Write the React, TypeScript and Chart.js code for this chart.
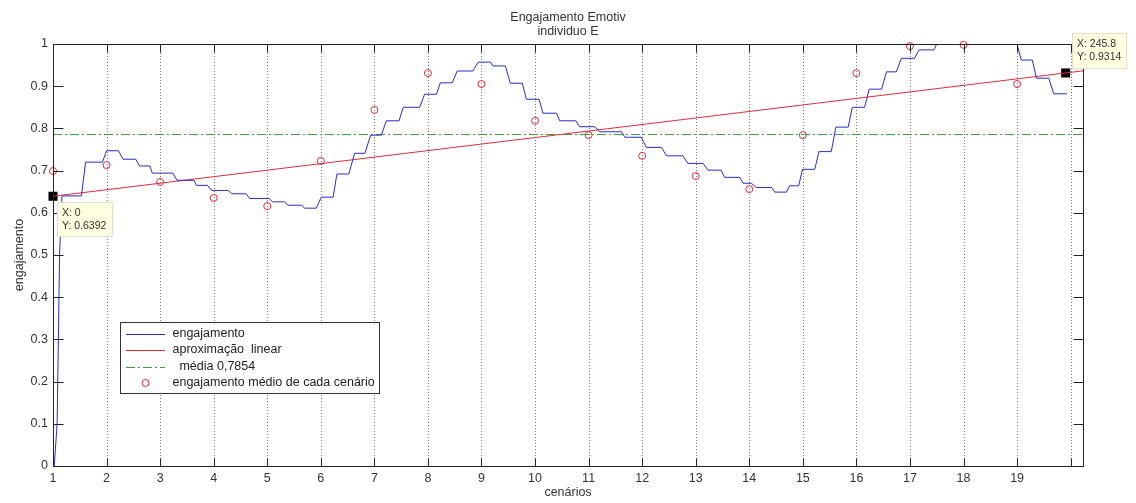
import { useEffect, useRef } from 'react';
import { Chart, registerables } from 'chart.js';

Chart.register(...registerables);

// ---------- data ----------
const xTickValues = [0, 13, 26, 39, 52, 65, 78, 91, 104, 117, 130, 143, 156, 169, 182, 195, 208, 221, 234, 247];
const xTickLabels = ['1', '2', '3', '4', '5', '6', '7', '8', '9', '10', '11', '12', '13', '14', '15', '16', '17', '18', '19', ''];

const engajamentoX = [
  0.3, 1.0, 1.3, 1.6, 2.0, 2.2, 6.9, 7.9, 12.0, 13.0, 15.9, 17.0, 20.1, 21.0, 23.5, 24.1, 29.1, 30.1, 34.2, 34.8,
  37.5, 38.5, 42.5, 43.4, 46.9, 47.7, 52.4, 53.3, 56.2, 57.0, 60.3, 61.1, 63.9, 65.1, 68.0, 68.9, 71.8, 73.2, 75.7, 77.1,
  79.7, 80.9, 84.0, 85.0, 89.0, 90.2, 93.1, 94.0, 96.9, 98.1, 101.9, 103.2, 106.2, 106.8, 109.8, 111.0, 113.9, 114.9, 118.0, 118.9,
  122.2, 123.0, 126.9, 127.8, 131.5, 132.7, 138.0, 138.8, 142.8, 144.0, 147.7, 148.9, 152.9, 154.1, 157.8, 159.0, 162.2, 163.0, 166.7, 167.5,
  169.5, 170.7, 174.4, 175.2, 178.0, 178.8, 181.0, 181.9, 184.9, 185.9, 188.9, 190.0, 193.0, 194.0, 197.0, 198.1, 201.1, 202.3, 204.7, 205.9,
  209.1, 210.2, 213.8, 215.5, 233.3, 234.0, 235.0, 237.7, 238.7, 241.7, 242.9, 246.1,
];
const engajamentoY = [
  0, 0.1, 0.3, 0.5, 0.6, 0.64, 0.64, 0.72, 0.72, 0.747, 0.747, 0.727, 0.727, 0.711, 0.711, 0.694, 0.694, 0.677, 0.677, 0.665,
  0.665, 0.653, 0.653, 0.645, 0.645, 0.634, 0.634, 0.626, 0.626, 0.618, 0.618, 0.611, 0.611, 0.637, 0.637, 0.692, 0.692, 0.741, 0.741, 0.784,
  0.784, 0.818, 0.818, 0.85, 0.85, 0.881, 0.881, 0.908, 0.908, 0.936, 0.936, 0.957, 0.957, 0.948, 0.948, 0.907, 0.907, 0.869, 0.869, 0.836,
  0.836, 0.818, 0.818, 0.804, 0.804, 0.792, 0.792, 0.779, 0.779, 0.755, 0.755, 0.735, 0.735, 0.717, 0.717, 0.701, 0.701, 0.684, 0.684, 0.67,
  0.67, 0.66, 0.66, 0.649, 0.649, 0.664, 0.664, 0.703, 0.703, 0.745, 0.745, 0.803, 0.803, 0.85, 0.85, 0.893, 0.893, 0.934, 0.934, 0.966,
  0.966, 0.986, 0.986, 1.02, 1.02, 1.0, 0.962, 0.962, 0.919, 0.919, 0.882, 0.882,
];

const linearX = [0, 250];
const linearY = [0.6392, 0.9364];

const mediaX = [0, 250];
const mediaY = [0.7854, 0.7854];

const cenarioX = [0, 13, 26, 39, 52, 65, 78, 91, 104, 117, 130, 143, 156, 169, 182, 195, 208, 221, 234];
const cenarioY = [0.699, 0.713, 0.673, 0.635, 0.616, 0.723, 0.844, 0.931, 0.905, 0.818, 0.784, 0.735, 0.687, 0.656, 0.784, 0.931, 0.995, 0.998, 0.905];

const tipX = [0, 245.8];
const tipY = [0.6392, 0.9314];

const seriesLabels = ['engajamento', 'aproximação  linear', '  média 0,7854', 'engajamento médio de cada cenário'];

const FONT = '"Liberation Sans", Arial, Helvetica, sans-serif';
const TEXT = '#333333';

const toPoints = (xs: number[], ys: number[]) => xs.map((x, i) => ({ x, y: ys[i] }));

const matlabPlugin = {
  id: 'matlabAxes',
  beforeDatasetsDraw(chart: any) {
    const { ctx, chartArea: a, scales } = chart;
    const xs = scales.x;
    ctx.save();
    ctx.strokeStyle = '#7a7a7a';
    ctx.lineWidth = 1;
    ctx.setLineDash([1, 2]);
    xTickValues.forEach((v) => {
      if (v === 0) return;
      const px = Math.round(xs.getPixelForValue(v)) + 0.5;
      ctx.beginPath();
      ctx.moveTo(px, a.top);
      ctx.lineTo(px, a.bottom);
      ctx.stroke();
    });
    ctx.restore();
  },
  afterDatasetsDraw(chart: any) {
    const { ctx, chartArea: a, scales } = chart;
    const xs = scales.x;
    const ys = scales.y;
    ctx.save();
    // axes box
    ctx.strokeStyle = '#222';
    ctx.lineWidth = 1;
    ctx.setLineDash([]);
    const L = Math.round(a.left) + 0.5;
    const R = Math.round(a.right) + 0.5;
    const T = Math.round(a.top) + 0.5;
    const B = Math.round(a.bottom) + 0.5;
    ctx.strokeRect(L, T, R - L, B - T);
    // inward ticks
    ctx.beginPath();
    xTickValues.forEach((v) => {
      const px = Math.round(xs.getPixelForValue(v)) + 0.5;
      ctx.moveTo(px, B);
      ctx.lineTo(px, B - 8);
      ctx.moveTo(px, T);
      ctx.lineTo(px, T + 8);
    });
    ys.ticks.forEach((t: any) => {
      const py = Math.round(ys.getPixelForValue(t.value)) + 0.5;
      ctx.moveTo(L, py);
      ctx.lineTo(L + 10, py);
      ctx.moveTo(R, py);
      ctx.lineTo(R - 10, py);
    });
    ctx.stroke();

    // legend
    const lx = 120.5, ly = 322.5, lw = 259, lh = 71;
    ctx.fillStyle = '#ffffff';
    ctx.fillRect(lx, ly, lw, lh);
    ctx.strokeStyle = '#333';
    ctx.strokeRect(lx, ly, lw, lh);
    const rows = [333.5, 350, 366.5, 383];
    ctx.font = `12.5px ${FONT}`;
    ctx.textBaseline = 'middle';
    ctx.textAlign = 'left';
    chart.data.datasets.slice(0, 4).forEach((ds: any, i: number) => {
      const ry = rows[i];
      if (ds.showLine === false) {
        ctx.beginPath();
        ctx.setLineDash([]);
        ctx.strokeStyle = ds.pointBorderColor;
        ctx.lineWidth = 1;
        ctx.arc(145.5, ry, ds.pointRadius, 0, Math.PI * 2);
        ctx.stroke();
      } else {
        ctx.beginPath();
        ctx.setLineDash(ds.borderDash || []);
        ctx.strokeStyle = ds.borderColor;
        ctx.lineWidth = 1;
        ctx.moveTo(126, Math.round(ry) + 0.5);
        ctx.lineTo(165, Math.round(ry) + 0.5);
        ctx.stroke();
      }
      ctx.fillStyle = '#222';
      ctx.fillText(ds.label, 172.5, ry);
    });
    ctx.setLineDash([]);

    // data tips
    ctx.font = `10.5px ${FONT}`;
    tipX.forEach((tx, i) => {
      const px = xs.getPixelForValue(tx);
      const py = ys.getPixelForValue(tipY[i]);
      let bx, by, bw, bh;
      if (i === 0) {
        bx = Math.round(px + 4) + 0.5; by = Math.round(py + 6) + 0.5; bw = 55; bh = 34;
      } else {
        bx = Math.round(px + 6) + 0.5; by = Math.round(py - 40) + 0.5; bw = 54; bh = 35;
      }
      ctx.fillStyle = '#ffffe1';
      ctx.fillRect(bx, by, bw, bh);
      ctx.strokeStyle = '#e0e0c8';
      ctx.strokeRect(bx, by, bw, bh);
      ctx.fillStyle = '#333';
      ctx.fillText(`X: ${tx}`, bx + 4.5, by + 10.5);
      ctx.fillText(`Y: ${tipY[i]}`, bx + 4.5, by + 23.5);
    });

    // titles
    ctx.fillStyle = TEXT;
    ctx.textAlign = 'center';
    ctx.font = `12.5px ${FONT}`;
    const cx = (a.left + a.right) / 2;
    ctx.fillText('Engajamento Emotiv', cx, 17.5);
    ctx.fillText('individuo E', cx, 31.5);
    ctx.fillText('cenários', cx, 493);
    ctx.translate(20, (a.top + a.bottom) / 2);
    ctx.rotate(-Math.PI / 2);
    ctx.fillText('engajamento', 0, 0);
    ctx.restore();
  },
};

export default function App() {
  const ref = useRef<HTMLCanvasElement | null>(null);
  useEffect(() => {
    if (!ref.current) return;
    const chart = new Chart(ref.current, {
      type: 'scatter',
      data: {
        datasets: [
          {
            label: seriesLabels[0],
            data: toPoints(engajamentoX, engajamentoY),
            showLine: true,
            borderColor: '#2a2ad0',
            borderWidth: 1,
            pointRadius: 0,
            tension: 0,
          },
          {
            label: seriesLabels[1],
            data: toPoints(linearX, linearY),
            showLine: true,
            borderColor: '#e22a3a',
            borderWidth: 1,
            pointRadius: 0,
          },
          {
            label: seriesLabels[2],
            data: toPoints(mediaX, mediaY),
            showLine: true,
            borderColor: '#3f9a3f',
            borderWidth: 1,
            borderDash: [9, 3, 2, 3],
            pointRadius: 0,
          },
          {
            label: seriesLabels[3],
            data: toPoints(cenarioX, cenarioY),
            showLine: false,
            pointRadius: 3.5,
            pointBorderWidth: 1,
            pointBorderColor: '#e2283a',
            pointBackgroundColor: 'rgba(0,0,0,0)',
            clip: false as any,
          },
          {
            label: 'tips',
            data: toPoints(tipX, tipY),
            showLine: false,
            pointStyle: 'rect',
            pointRadius: 6.4,
            pointBorderWidth: 0,
            pointBackgroundColor: '#000000',
            pointBorderColor: '#000000',
            clip: false as any,
          },
        ],
      },
      options: {
        animation: false,
        responsive: false,
        events: [],
        layout: { padding: { left: 0, right: 53, top: 44, bottom: 0 } },
        plugins: {
          legend: { display: false },
          tooltip: { enabled: false },
          title: { display: false },
        },
        scales: {
          x: {
            type: 'linear',
            min: 0,
            max: 250,
            grid: { display: false, drawTicks: false },
            border: { display: false },
            afterBuildTicks: (scale: any) => {
              scale.ticks = xTickValues.map((v) => ({ value: v }));
            },
            afterFit: (scale: any) => {
              scale.height = 37;
            },
            ticks: {
              autoSkip: false,
              maxRotation: 0,
              padding: 5,
              color: TEXT,
              font: { family: FONT, size: 12.5 },
              callback: (_v: any, i: number) => xTickLabels[i],
            },
          },
          y: {
            type: 'linear',
            min: 0,
            max: 1,
            grid: { display: false, drawTicks: false },
            border: { display: false },
            afterFit: (scale: any) => {
              scale.width = 53;
            },
            ticks: {
              stepSize: 0.1,
              autoSkip: false,
              padding: 5,
              color: TEXT,
              font: { family: FONT, size: 12.5 },
              callback: (v: any) => String(Math.round(Number(v) * 10) / 10),
            },
          },
        },
      },
      plugins: [matlabPlugin],
    });
    return () => chart.destroy();
  }, []);
  return (
    <canvas
      ref={ref}
      width={1136}
      height={503}
      style={{ position: 'absolute', left: 0, top: 0, display: 'block', background: '#fff' }}
    />
  );
}
